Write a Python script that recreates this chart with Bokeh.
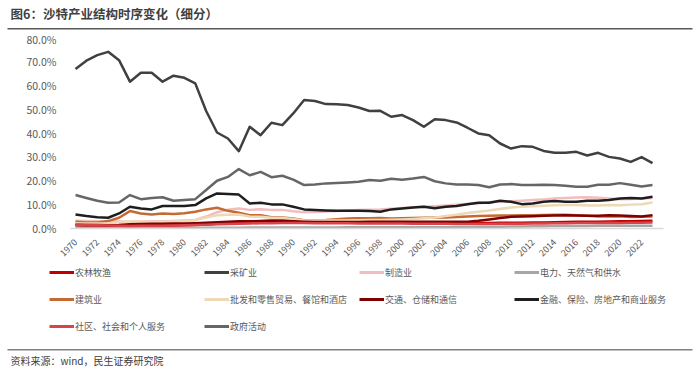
import math
import numpy as np
from bokeh.plotting import figure
from bokeh.models import Range1d, NumeralTickFormatter, FixedTicker, Legend, LegendItem
from bokeh.layouts import column, row
from bokeh.embed import file_html
from bokeh.resources import INLINE
from bokeh.core.properties import value

FONT = "Noto Sans CJK SC"
W = 700

TITLE = "图6：沙特产业结构时序变化（细分）"
SOURCE = "资料来源：wind，民生证券研究院"

years = list(range(1970, 2024))
x_ticks = list(range(1970, 2023, 2))
y_ticks = [0.0, 0.1, 0.2, 0.3, 0.4, 0.5, 0.6, 0.7, 0.8]

names = ["农林牧渔", "采矿业", "制造业", "电力、天然气和供水",
         "建筑业", "批发和零售贸易、餐馆和酒店", "交通、仓储和通信", "金融、保险、房地产和商业服务",
         "社区、社会和个人服务", "政府活动"]

# values in percent, 1970-2023
agriculture = [1.3, 1.2, 1.1, 1.0, 1.0, 0.9, 1.0, 1.1, 1.2, 1.3,
               1.4, 1.5, 1.7, 2.0, 2.3, 2.6, 2.8, 3.0, 3.2, 3.2,
               3.1, 2.9, 2.8, 2.8, 2.8, 2.8, 2.7, 2.7, 2.7, 2.7,
               2.6, 2.6, 2.6, 2.5, 2.5, 2.4, 2.4, 2.3, 2.3, 2.4,
               2.4, 2.4, 2.5, 2.5, 2.6, 2.7, 2.8, 2.8, 2.8, 2.9,
               3.0, 3.0, 3.1, 3.2]
mining = [66.8, 70.3, 72.6, 74.0, 70.5, 61.5, 65.2, 65.2, 61.5, 64.0,
          63.1, 60.8, 49.2, 40.2, 37.7, 32.4, 42.6, 39.1, 44.3, 43.3,
          48.2, 53.8, 53.4, 52.1, 52.0, 51.7, 50.7, 49.2, 49.3, 46.8,
          47.5, 45.4, 42.6, 45.8, 45.4, 44.4, 42.2, 39.8, 39.1, 35.6,
          33.5, 34.5, 34.2, 32.5, 31.7, 31.7, 32.1, 30.6, 31.7, 30.0,
          29.3, 27.9, 29.9, 27.4]
manufacturing = [3.2, 3.1, 3.0, 3.0, 2.9, 2.8, 2.9, 3.0, 3.0, 3.1,
                 3.3, 3.6, 5.0, 6.8, 7.9, 8.4, 7.8, 8.1, 7.8, 7.8,
                 7.2, 6.8, 6.9, 7.1, 7.3, 7.5, 7.7, 7.9, 8.0, 8.3,
                 8.6, 8.9, 9.1, 9.3, 9.6, 9.9, 10.3, 10.6, 11.0, 11.3,
                 11.4, 11.6, 11.9, 12.2, 12.6, 12.8, 13.0, 13.1, 12.9, 12.6,
                 12.3, 12.4, 12.6, 12.8]
utilities = [0.3, 0.3, 0.3, 0.2, 0.2, 0.2, 0.2, 0.2, 0.2, 0.2,
             0.2, 0.2, 0.3, 0.3, 0.3, 0.3, 0.4, 0.4, 0.4, 0.4,
             0.4, 0.4, 0.4, 0.4, 0.4, 0.5, 0.5, 0.5, 0.5, 0.5,
             0.5, 0.5, 0.5, 0.5, 0.5, 0.5, 0.5, 0.6, 0.6, 0.7,
             0.8, 0.8, 0.9, 0.9, 1.0, 1.0, 1.0, 1.0, 1.1, 1.1,
             1.2, 1.2, 1.2, 1.2]
construction = [2.8, 2.5, 2.5, 3.1, 4.5, 7.3, 6.3, 5.9, 6.3, 6.1,
                6.4, 7.0, 8.0, 8.7, 7.4, 6.6, 5.6, 5.6, 4.7, 4.6,
                4.2, 3.5, 3.5, 3.6, 3.9, 4.2, 4.3, 4.3, 4.4, 4.2,
                4.3, 4.4, 4.5, 4.6, 4.6, 4.8, 5.0, 5.2, 5.3, 5.4,
                5.4, 5.5, 5.6, 5.7, 5.8, 5.8, 5.6, 5.3, 5.0, 5.0,
                5.1, 4.8, 4.9, 5.0]
wholesale = [2.2, 2.1, 2.1, 2.2, 2.5, 2.9, 2.8, 2.7, 2.8, 2.9,
             3.1, 3.5, 4.6, 5.5, 5.8, 5.9, 5.0, 4.9, 4.5, 4.4,
             4.0, 3.4, 3.3, 3.3, 3.4, 3.4, 3.5, 3.6, 3.6, 3.7,
             3.8, 4.0, 4.3, 4.6, 5.2, 5.8, 6.5, 7.0, 7.5, 8.2,
             8.8, 9.1, 9.3, 9.5, 9.7, 9.8, 9.8, 9.6, 9.6, 9.8,
             9.7, 10.0, 10.2, 10.9]
transport = [1.6, 1.5, 1.5, 1.4, 1.5, 1.8, 1.9, 2.0, 2.0, 2.1,
             2.1, 2.2, 2.4, 2.6, 2.8, 3.0, 3.0, 3.1, 3.2, 3.2,
             3.0, 2.8, 2.7, 2.7, 2.7, 2.7, 2.7, 2.8, 2.8, 2.8,
             2.8, 2.8, 2.8, 2.8, 2.8, 2.8, 2.8, 3.2, 3.8, 4.4,
             4.9, 5.0, 5.1, 5.3, 5.4, 5.5, 5.4, 5.3, 5.3, 5.5,
             5.4, 5.2, 5.0, 5.6]
finance = [5.9, 5.2, 4.7, 4.5, 6.3, 9.1, 8.4, 8.0, 9.4, 9.4,
           9.4, 9.8, 12.6, 14.7, 14.4, 14.2, 10.5, 10.8, 10.1, 10.1,
           9.1, 8.0, 7.7, 7.5, 7.4, 7.4, 7.4, 7.3, 7.0, 8.0,
           8.4, 8.8, 9.1, 8.5, 9.1, 9.4, 10.2, 10.8, 10.8, 11.6,
           11.2, 10.2, 10.5, 11.2, 11.5, 11.2, 11.2, 11.6, 11.6, 11.9,
           12.6, 12.8, 12.6, 13.3]
community = [1.6, 1.5, 1.4, 1.3, 1.2, 1.0, 1.1, 1.2, 1.2, 1.3,
             1.4, 1.5, 1.6, 1.8, 1.9, 2.0, 2.1, 2.2, 2.2, 2.3,
             2.3, 2.3, 2.2, 2.2, 2.2, 2.2, 2.1, 2.1, 2.1, 2.1,
             2.1, 2.0, 2.0, 2.0, 2.0, 1.9, 1.9, 1.9, 1.9, 2.0,
             2.0, 2.0, 2.1, 2.1, 2.2, 2.2, 2.3, 2.3, 2.3, 2.4,
             2.3, 2.4, 2.4, 2.5]
government = [14.0, 12.8, 11.6, 10.8, 10.9, 14.0, 12.3, 12.8, 13.1, 11.6,
              11.9, 12.3, 16.1, 20.0, 21.6, 24.9, 22.3, 23.7, 21.5, 22.1,
              20.5, 18.2, 18.4, 18.9, 19.1, 19.3, 19.6, 20.3, 20.0, 20.8,
              20.4, 20.9, 21.6, 19.8, 18.9, 18.4, 18.4, 18.2, 17.3, 18.4,
              18.6, 18.2, 18.2, 18.3, 18.2, 17.9, 17.5, 17.5, 18.3, 18.3,
              19.0, 18.3, 17.6, 18.2]

series = [agriculture, mining, manufacturing, utilities, construction,
          wholesale, transport, finance, community, government]
colors = ["#C00000", "#404040", "#F2BDBE", "#A6A6A6", "#C46A32",
          "#EDD9B5", "#7F0000", "#1E1E1E", "#D9434A", "#666666"]


def blank(h):
    f = figure(width=W, height=h, x_range=Range1d(0, W), y_range=Range1d(0, h),
               output_backend="svg", toolbar_location=None, min_border=0,
               x_axis_location=None, y_axis_location=None)
    f.grid.visible = False
    f.outline_line_color = None
    return f


# ---------- header (page y 0..31) ----------
hdr = blank(31)
hdr.text(x=[10], y=[18.5], text=[TITLE], text_font=value(FONT), text_font_size="12.5px",
         text_font_style="bold", text_color="#404040", text_baseline="middle")
hdr.segment(x0=[7], y0=[2.7], x1=[692], y1=[2.7], line_color="#595959", line_width=1.5)

# ---------- main chart (page y 31..262, frame x 70..663, y 37..228) ----------
p = figure(width=W, height=231, x_range=Range1d(1969.54, 2024.01), y_range=Range1d(0, 0.8),
           output_backend="svg", toolbar_location=None,
           min_border_left=70, min_border_right=37, min_border_top=6, min_border_bottom=34)
p.grid.visible = False
p.outline_line_color = None
for vals, c in zip(series, colors):
    p.line(years, np.array(vals) / 100.0, line_color=c, line_width=2.5, line_join="round")

p.xaxis.ticker = FixedTicker(ticks=x_ticks)
p.xaxis.major_label_orientation = math.pi / 4
p.xaxis.axis_line_color = "#D9D9D9"
p.xaxis.axis_line_width = 1.5
p.xaxis.major_tick_line_color = None
p.xaxis.minor_tick_line_color = None
p.xaxis.major_label_text_font = FONT
p.xaxis.major_label_text_font_size = "9px"
p.xaxis.major_label_text_color = "#595959"
p.xaxis.major_label_standoff = 6

p.yaxis.ticker = FixedTicker(ticks=y_ticks)
p.yaxis.formatter = NumeralTickFormatter(format="0.0%")
p.yaxis.axis_line_color = None
p.yaxis.major_tick_line_color = None
p.yaxis.minor_tick_line_color = None
p.yaxis.major_label_text_font = FONT
p.yaxis.major_label_text_font_size = "10.5px"
p.yaxis.major_label_text_color = "#595959"
p.yaxis.major_label_standoff = 8

# ---------- legend (page y 262..342) ----------
lg = blank(80)
items = []
for n, c in zip(names, colors):
    r = lg.line(x=[np.nan], y=[np.nan], line_color=c, line_width=3)
    items.append(LegendItem(label=n, renderers=[r]))
legend = Legend(items=items, location=(49, 6), orientation="horizontal", ncols=4,
                glyph_width=25, glyph_height=20, label_height=20, label_width=122,
                label_standoff=1, spacing=7, padding=0, margin=0,
                border_line_color=None, background_fill_alpha=0,
                label_text_font=FONT, label_text_font_size="9px",
                label_text_color="#595959", label_text_baseline="middle")
lg.add_layout(legend, "center")

# ---------- footer (page y 342..371) ----------
ft = blank(29)
ft.segment(x0=[7], y0=[21.7], x1=[692], y1=[21.7], line_color="#808080", line_width=1.5)
ft.text(x=[10], y=[11.5], text=[SOURCE], text_font=value(FONT), text_font_size="10px",
        text_color="#404040", text_baseline="middle")

layout = column(row(hdr), row(p), row(lg), row(ft), spacing=0)
open("out.html", "w").write(file_html(layout, INLINE))
